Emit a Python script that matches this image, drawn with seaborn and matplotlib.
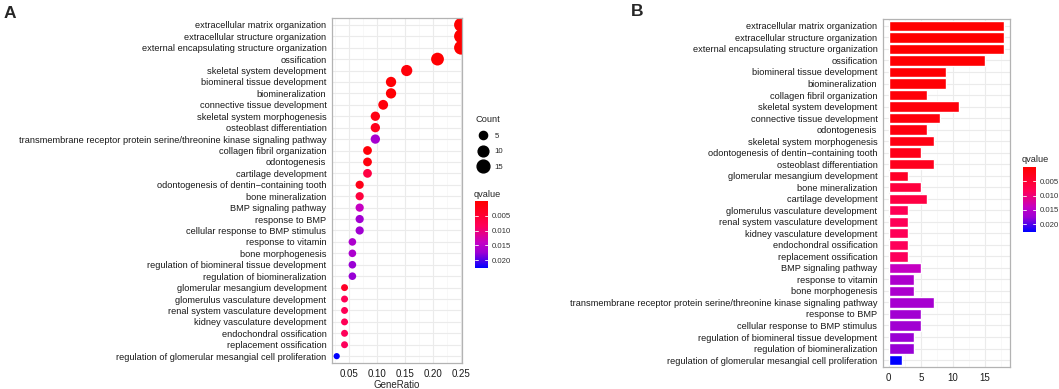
import numpy as np
import pandas as pd
import matplotlib
matplotlib.use("Agg")
import matplotlib.pyplot as plt
from matplotlib.colors import LinearSegmentedColormap, Normalize
from matplotlib.lines import Line2D
import seaborn as sns

# GO terms, ordered as in panel A (by GeneRatio)
terms = [
    "extracellular matrix organization",
    "extracellular structure organization",
    "external encapsulating structure organization",
    "ossification",
    "skeletal system development",
    "biomineral tissue development",
    "biomineralization",
    "connective tissue development",
    "skeletal system morphogenesis",
    "osteoblast differentiation",
    "transmembrane receptor protein serine/threonine kinase signaling pathway",
    "collagen fibril organization",
    "odontogenesis",
    "cartilage development",
    "odontogenesis of dentin\u2212containing tooth",
    "bone mineralization",
    "BMP signaling pathway",
    "response to BMP",
    "cellular response to BMP stimulus",
    "response to vitamin",
    "bone morphogenesis",
    "regulation of biomineral tissue development",
    "regulation of biomineralization",
    "glomerular mesangium development",
    "glomerulus vasculature development",
    "renal system vasculature development",
    "kidney vasculature development",
    "endochondral ossification",
    "replacement ossification",
    "regulation of glomerular mesangial cell proliferation",
]
counts = [18, 18, 18, 15, 11, 9, 9, 8, 7, 7, 7, 6, 6, 6, 5, 5, 5, 5, 5,
          4, 4, 4, 4, 3, 3, 3, 3, 3, 3, 2]
gene_ratio = [0.250, 0.250, 0.250, 0.208, 0.153, 0.125, 0.125, 0.111, 0.097,
              0.097, 0.097, 0.083, 0.083, 0.083, 0.069, 0.069, 0.069, 0.069,
              0.069, 0.056, 0.056, 0.056, 0.056, 0.042, 0.042, 0.042, 0.042,
              0.042, 0.042, 0.028]
qvalues = [0.00001, 0.00001, 0.00001, 0.0002, 0.0010, 0.0005, 0.0005, 0.0012,
           0.0020, 0.0030, 0.0165, 0.0008, 0.0015, 0.0065, 0.0025, 0.0060,
           0.0140, 0.0170, 0.0171, 0.0160, 0.0161, 0.0175, 0.0176, 0.0040,
           0.0080, 0.0081, 0.0082, 0.0085, 0.0086, 0.0227]

df = pd.DataFrame({"term": terms, "Count": counts,
                   "GeneRatio": gene_ratio, "qvalue": qvalues})
df_b = df.sort_values("qvalue", kind="stable").reset_index(drop=True)

# red -> blue ramp, tuned by eye to the reference
cmap = LinearSegmentedColormap.from_list(
    "rb", [(0, "#FF0000"), (0.18, "#FF0028"), (0.37, "#FF0058"),
           (0.62, "#C400C4"), (0.77, "#9C00D4"), (1, "#0000FF")])
norm = Normalize(vmin=0.0, vmax=0.0227)

sns.set_style("whitegrid")
plt.rcParams["font.family"] = ["Liberation Sans", "DejaVu Sans"]
plt.rcParams["font.size"] = 6.7

fig = plt.figure(figsize=(10.59, 3.89), dpi=100)
grid_major = "#EBEBEB"
grid_minor = "#F5F5F5"
border = "#B3B3B3"
lab_size = 6.7


def style_axes(ax):
    for s in ax.spines.values():
        s.set_color(border)
        s.set_linewidth(0.9)
    ax.set_axisbelow(True)
    ax.grid(True, which="major", color=grid_major, lw=0.8)
    ax.grid(True, which="minor", axis="x", color=grid_minor, lw=0.5)
    ax.tick_params(axis="both", which="major", length=2.5, width=0.6,
                   color="#333333", labelsize=lab_size, pad=1.5, labelcolor="#1A1A1A")
    ax.tick_params(axis="both", which="minor", length=0)


def add_colorbar(rect):
    cax = fig.add_axes(rect)
    cb = fig.colorbar(plt.cm.ScalarMappable(norm=norm, cmap=cmap), cax=cax)
    cb.outline.set_visible(False)
    ticks = [0.005, 0.010, 0.015, 0.020]
    cb.set_ticks(ticks)
    cb.set_ticklabels([f"{t:.3f}" for t in ticks])
    cax.invert_yaxis()
    cax.tick_params(length=0, labelsize=5.6, pad=3, labelcolor="#333333")
    tr = cax.get_yaxis_transform()
    for t in ticks:
        cax.plot([0, 0.2], [t, t], color="white", lw=0.6, transform=tr)
        cax.plot([0.8, 1], [t, t], color="white", lw=0.6, transform=tr)
    return cax


# ---- panel A: dot plot ----
axA = fig.add_axes([0.3135, 0.0668, 0.1228, 0.887])
sns.scatterplot(data=df, x="GeneRatio", y="term", hue="qvalue", size="Count",
                palette=cmap, hue_norm=norm, sizes=(20, 100), size_norm=(2, 18),
                linewidth=0, legend=False, ax=axA)
axA.set_xlim(0.0196, 0.2518)
axA.set_ylim(len(terms) - 0.4, -0.6)
axA.set_xticks([0.05, 0.10, 0.15, 0.20, 0.25])
axA.set_xticklabels(["0.05", "0.10", "0.15", "0.20", "0.25"])
axA.set_xticks([0.025, 0.075, 0.125, 0.175, 0.225], minor=True)
axA.set_ylabel("")
axA.set_xlabel("GeneRatio", fontsize=7, labelpad=1)
style_axes(axA)
axA.tick_params(axis="x", labelsize=7)

fig.text(0.003, 0.985, "A", fontsize=12.5, fontweight="bold", va="top")

# size legend
size_handles = [Line2D([], [], marker="o", ls="", color="black",
                       markersize=np.sqrt(20 + (100 - 20) * (c - 2) / 16))
                for c in [5, 10, 15]]
legA = fig.legend(size_handles, ["5", "10", "15"], title="Count",
                  loc="upper left", bbox_to_anchor=(0.444, 0.718), frameon=False,
                  fontsize=5.6, title_fontsize=6.7, labelspacing=1.05,
                  handletextpad=0.4, borderpad=0.2)
legA._legend_box.align = "left"
add_colorbar([0.4485, 0.311, 0.0123, 0.172])
fig.text(0.447, 0.494, "qvalue", fontsize=6.7, va="baseline")

# ---- panel B: bar plot ----
axB = fig.add_axes([0.8338, 0.0566, 0.1199, 0.8946])
bar_colors = [cmap(norm(q)) for q in df_b["qvalue"]]
sns.barplot(data=df_b, x="Count", y="term", hue="term", palette=bar_colors,
            legend=False, width=0.9, saturation=1, ax=axB)
axB.set_xlim(-0.9, 18.9)
axB.set_ylim(len(terms) - 0.4, -0.6)
axB.set_xticks([0, 5, 10, 15])
axB.set_xticks([2.5, 7.5, 12.5, 17.5], minor=True)
axB.set_xlabel("")
axB.set_ylabel("")
style_axes(axB)
axB.tick_params(axis="x", labelsize=7)

fig.text(0.596, 0.99, "B", fontsize=12.5, fontweight="bold", va="top")
add_colorbar([0.966, 0.4036, 0.0123, 0.167])
fig.text(0.965, 0.5835, "qvalue", fontsize=6.7, va="baseline")

fig.savefig("out.png", dpi=100)
